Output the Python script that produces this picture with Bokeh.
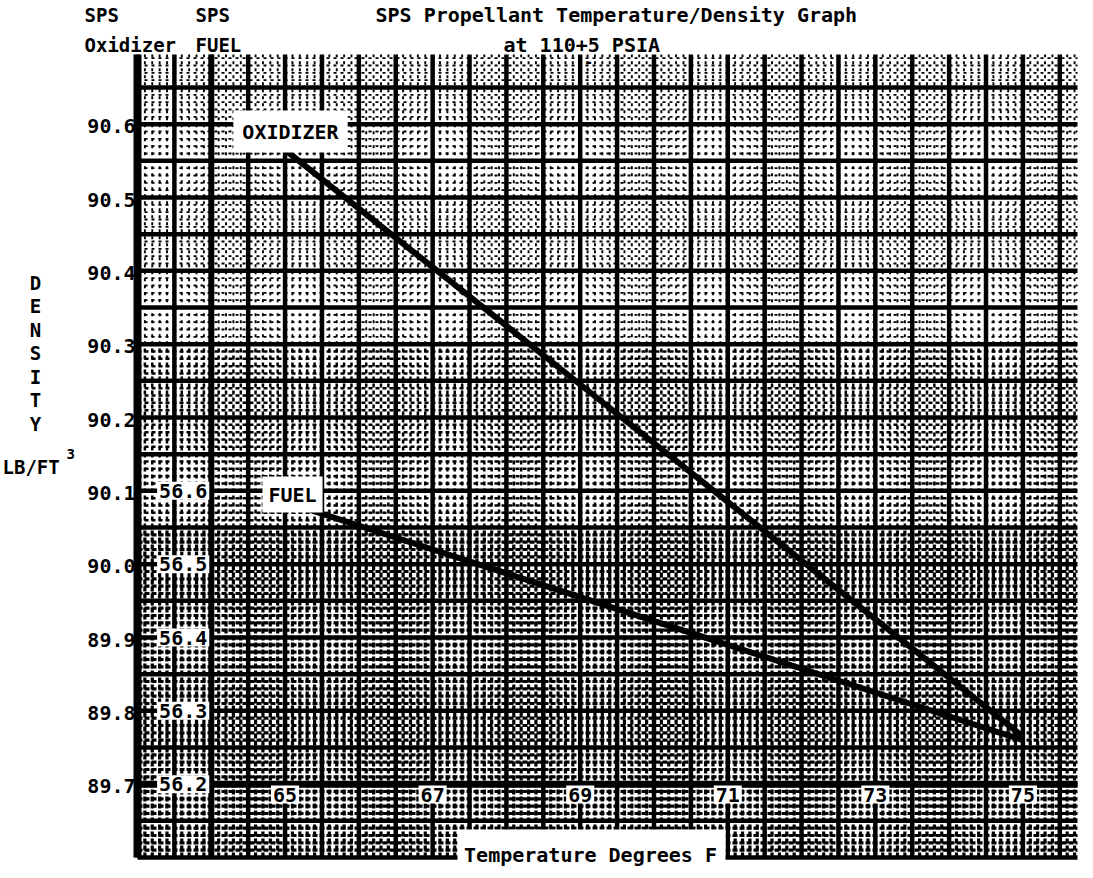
import numpy as np
from bokeh.plotting import figure
from bokeh.models import Range1d, Label, BoxAnnotation
from bokeh.embed import file_html
from bokeh.resources import INLINE

# ---------------- data ----------------
temps = [65, 67, 69, 71, 73, 75]
oxidizer = [90.565, 90.405, 90.245, 90.085, 89.925, 89.765]
fuel = [56.585, 56.52, 56.455, 56.39, 56.325, 56.26]
ox_ticks = [89.7, 89.8, 89.9, 90.0, 90.1, 90.2, 90.3, 90.4, 90.5, 90.6]
fuel_ticks = [56.2, 56.3, 56.4, 56.5, 56.6]
x_ticks = [65, 67, 69, 71, 73, 75]

FONT = "DejaVu Sans Mono"

# paper area (data) and where it sits on the page
X0, X1 = 63.0, 75.74
Y0, Y1 = 89.6, 90.695
FL, FR, FT, FB = 145, 1085, 62, 865
SX = (FR - FL) / (X1 - X0)   # px per degree
SY = (FB - FT) / (Y1 - Y0)   # px per lb/ft3
FUEL_OFFSET = 89.7 - 56.2    # fuel scale shares the grid, 56.2 <-> 89.7


def dx(px):
    return X0 + (px - FL) / SX


def dy(py):
    return Y0 + (FB - py) / SY


W, H = 1085, 870  # canvas from page (8,8) to (1093,878)
p = figure(width=W, height=H,
           x_range=Range1d(dx(8), dx(8 + W)), y_range=Range1d(dy(8 + H), dy(8)),
           output_backend="svg", toolbar_location=None,
           x_axis_location=None, y_axis_location=None,
           min_border_left=0, min_border_right=0, min_border_top=0, min_border_bottom=0)
p.extra_y_ranges = {"fuel": Range1d(dy(8 + H) - FUEL_OFFSET, dy(8) - FUEL_OFFSET)}
p.outline_line_color = None
p.xgrid.visible = False
p.ygrid.visible = False
p.background_fill_color = "white"
p.border_fill_color = "white"

# ---------------- graph-paper grid ----------------
xmaj = np.round(np.arange(63.0, 75.75, 0.5), 3)
xmin = np.round(np.arange(63.1, 75.75, 0.1), 3)
ymaj = np.round(np.arange(89.6, 90.66, 0.05), 3)
ymin = np.round(np.arange(89.61, 90.695, 0.01), 3)
xmin = [v for v in xmin if not np.isclose((v * 2) % 1, 0) and not np.isclose((v * 2) % 1, 1)]
ymin = [v for v in ymin if not np.isclose((v * 20) % 1, 0) and not np.isclose((v * 20) % 1, 1)]

# the scanned paper is darker toward the bottom: three bands of minor-line weight
bands = [(89.6, 90.05, 3.2, "5 2"), (90.05, 90.3, 2.5, "4 3"), (90.3, Y1, 1.9, "3 4")]
for lo, hi, wdt, dash in bands:
    p.multi_line(xs=[[v, v] for v in xmin], ys=[[lo, hi]] * len(xmin),
                 line_color="black", line_width=wdt, line_dash=dash)
    ys_band = [v for v in ymin if lo <= v < hi]
    p.multi_line(xs=[[X0, X1]] * len(ys_band), ys=[[v, v] for v in ys_band],
                 line_color="black", line_width=wdt, line_dash=dash)

# major lines
p.multi_line(xs=[[v, v] for v in xmaj], ys=[[Y0, Y1]] * len(xmaj),
             line_color="black", line_width=4.5)
p.multi_line(xs=[[X0, X1]] * len(ymaj), ys=[[v, v] for v in ymaj],
             line_color="black", line_width=4.5)
# heavy oxidizer axis, fuel scale line and baseline
p.line([X0, X0], [Y0, Y1], line_color="black", line_width=8)
p.line([64.0, 64.0], [Y0, Y1], line_color="black", line_width=6)
p.line([X0, X1], [89.7, 89.7], line_color="black", line_width=7)

# ---------------- data lines ----------------
p.line(temps, oxidizer, line_color="black", line_width=6)
p.line(temps, fuel, y_range_name="fuel", line_color="black", line_width=6)


def lab(x, y, text, size="19px", align="left", bg=None, yname="default", pad=2):
    kw = dict(x=x, y=y, text=text, text_font=FONT, text_font_style="bold",
              text_font_size=size, text_color="black", text_align=align,
              text_baseline="middle", y_range_name=yname)
    if bg:
        kw.update(background_fill_color=bg, background_fill_alpha=1.0, padding=pad)
    p.add_layout(Label(**kw))


# oxidizer scale labels (left of the heavy axis)
for v in ox_ticks:
    lab(dx(143), v - 2 / SY, f"{v:.1f}", size="20px", align="right")

# fuel scale labels
for v in fuel_ticks:
    lab(64.0 - 2 / SX, v, f"{v:.1f}", size="20px", align="right", bg="white",
        yname="fuel", pad=2)

# temperature labels
for t in x_ticks:
    lab(t, dy(802), f"{t}", size="20px", align="center", bg="white", pad=2)

# series labels
lab(dx(298), dy(139), "OXIDIZER", size="20px", align="center", bg="white", pad=9)
lab(dx(300), dy(502), "FUEL", size="20px", align="center", bg="white", pad=6)

# x-axis title with white cut-out
p.add_layout(BoxAnnotation(left=dx(465), right=dx(733), top=dy(837), bottom=dy(880),
                           fill_color="white", fill_alpha=1.0, line_color=None))
lab(dx(598), dy(862), "Temperature Degrees F", size="20px", align="center")

# headers
lab(dx(92), dy(22), "SPS", size="19px")
lab(dx(92), dy(52), "Oxidizer", size="19px")
lab(dx(203), dy(22), "SPS", size="19px")
lab(dx(203), dy(52), "FUEL", size="19px")
lab(dx(383), dy(22), "SPS Propellant Temperature/Density Graph", size="20px")
lab(dx(511), dy(52), "at 110+5 PSIA", size="20px")
lab(dx(596), dy(68), "-", size="16px", align="center")

# vertical DENSITY label
for i, ch in enumerate("DENSITY"):
    lab(dx(43), dy(290 + i * 23.5), ch, size="19px", align="center")
lab(dx(10), dy(474), "LB/FT", size="19px")
lab(dx(74), dy(461), "3", size="14px")

open("out.html", "w").write(file_html(p, INLINE))
